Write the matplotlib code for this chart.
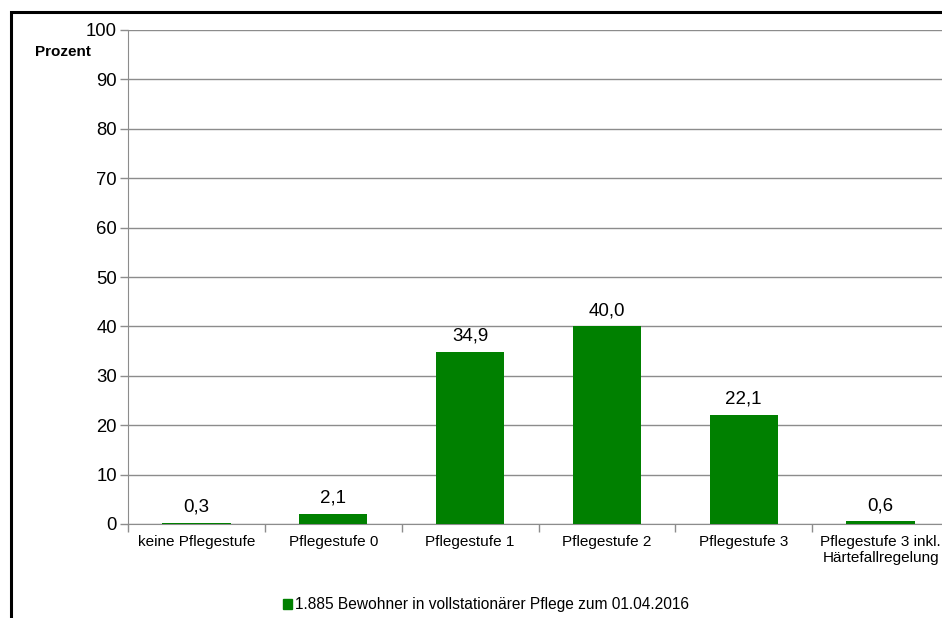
import matplotlib.pyplot as plt
from matplotlib.patches import Rectangle, Patch

plt.rcParams['font.family'] = ['Liberation Sans', 'DejaVu Sans']

# Anteil der Bewohner nach Pflegestufe (Prozent)
categories = ['keine Pflegestufe', 'Pflegestufe 0', 'Pflegestufe 1', 'Pflegestufe 2',
              'Pflegestufe 3', 'Pflegestufe 3 inkl.\nHärtefallregelung']
values = [0.3, 2.1, 34.9, 40.0, 22.1, 0.6]
series_name = '1.885 Bewohner in vollstationärer Pflege zum 01.04.2016'
green = '#008000'
grid_grey = '#8c8c8c'

fig = plt.figure(figsize=(9.42, 6.18), dpi=100)
ax = fig.add_axes([128 / 942, 94 / 618, 821 / 942, 494 / 618])

x = list(range(len(categories)))
ax.bar(x, values, width=0.5, color=green, zorder=3)

for xi, v in zip(x, values):
    ax.annotate(f'{v:.1f}'.replace('.', ','), (xi, v), xytext=(0, 5),
                textcoords='offset points', ha='center', va='bottom', fontsize=13.5)

ax.set_xlim(-0.5, len(categories) - 0.5)
ax.set_ylim(0, 100)
ax.set_yticks(range(0, 101, 10))
ax.tick_params(axis='y', labelsize=13.3, length=6, color=grid_grey, width=1, pad=2)
ax.yaxis.grid(True, color=grid_grey, linewidth=1, zorder=0)

ax.set_xticks(x)
ax.set_xticklabels(categories, fontsize=11)
ax.tick_params(axis='x', length=0, pad=8)
ax.set_xticks([i - 0.5 for i in range(len(categories) + 1)], minor=True)
ax.tick_params(axis='x', which='minor', length=6, color=grid_grey, width=1)

for s in ['top', 'right']:
    ax.spines[s].set_visible(False)
ax.spines['left'].set_color(grid_grey)
ax.spines['bottom'].set_color(grid_grey)

fig.text(35 / 942, 1 - 52 / 618, 'Prozent', fontsize=11, fontweight='bold', va='center', ha='left')

fig.legend(handles=[Patch(color=green, label=series_name)], loc='center',
           bbox_to_anchor=(486 / 942, 1 - 605 / 618), frameon=False, fontsize=11.2,
           handlelength=0.6, handleheight=0.6, handletextpad=0.2)

# Rahmen (rechts und unten abgeschnitten)
fig.patches.append(Rectangle((11 / 942, -0.1), 1.2, 1 - 12.5 / 618 + 0.1, transform=fig.transFigure,
                             fill=False, edgecolor='black', linewidth=2.2, clip_on=False))

fig.savefig('out.png', dpi=100)
